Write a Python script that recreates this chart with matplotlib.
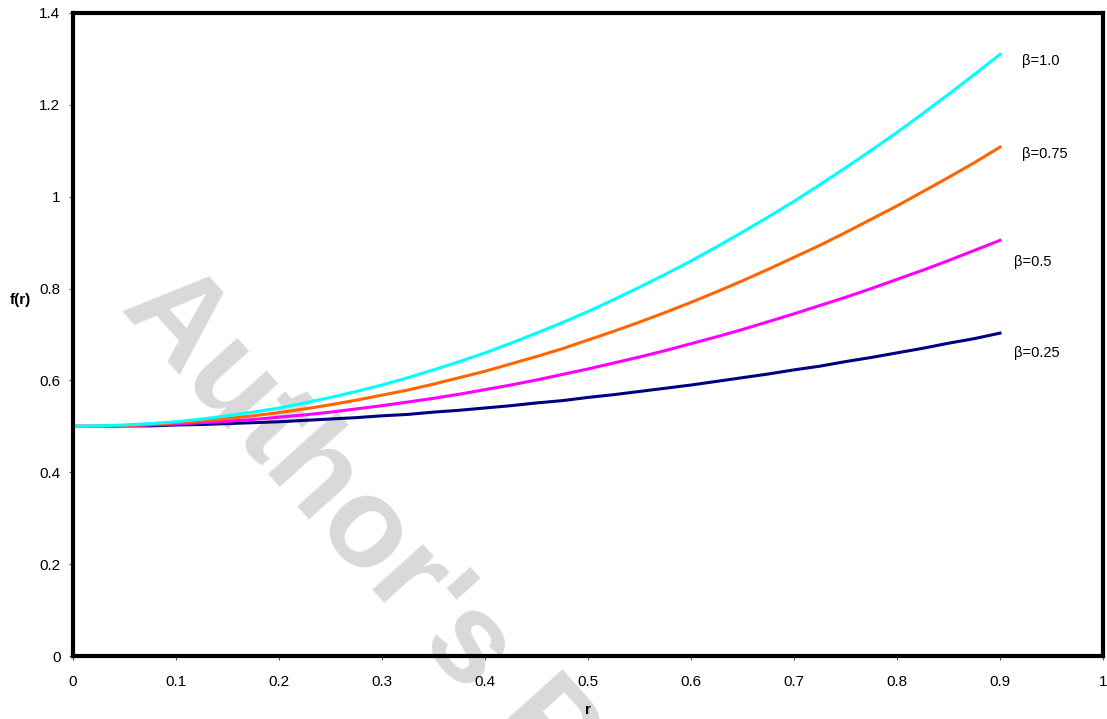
import matplotlib.pyplot as plt

plt.rcParams['font.family'] = ['Liberation Sans', 'DejaVu Sans']

# r values and f(r)
r = [0.0, 0.025, 0.05, 0.075, 0.1, 0.125, 0.15, 0.175, 0.2, 0.225,
     0.25, 0.275, 0.3, 0.325, 0.35, 0.375, 0.4, 0.425, 0.45, 0.475,
     0.5, 0.525, 0.55, 0.575, 0.6, 0.625, 0.65, 0.675, 0.7, 0.725,
     0.75, 0.775, 0.8, 0.825, 0.85, 0.875, 0.9]
f_b100 = [0.500, 0.501, 0.503, 0.506, 0.510, 0.516, 0.523, 0.531, 0.540, 0.551,
          0.563, 0.576, 0.590, 0.606, 0.623, 0.641, 0.660, 0.681, 0.703, 0.726,
          0.750, 0.776, 0.803, 0.831, 0.860, 0.891, 0.923, 0.956, 0.990, 1.026,
          1.063, 1.101, 1.140, 1.181, 1.223, 1.266, 1.310]
f_b075 = [0.500, 0.500, 0.502, 0.504, 0.508, 0.512, 0.517, 0.523, 0.530, 0.538,
          0.547, 0.557, 0.568, 0.579, 0.592, 0.606, 0.620, 0.636, 0.652, 0.669,
          0.688, 0.707, 0.727, 0.748, 0.770, 0.793, 0.817, 0.842, 0.868, 0.894,
          0.922, 0.951, 0.980, 1.011, 1.042, 1.074, 1.108]
f_b050 = [0.500, 0.500, 0.501, 0.503, 0.505, 0.508, 0.511, 0.515, 0.520, 0.525,
          0.531, 0.538, 0.545, 0.553, 0.561, 0.570, 0.580, 0.590, 0.601, 0.613,
          0.625, 0.638, 0.651, 0.665, 0.680, 0.695, 0.711, 0.728, 0.745, 0.763,
          0.781, 0.800, 0.820, 0.840, 0.861, 0.883, 0.905]
f_b025 = [0.500, 0.500, 0.501, 0.501, 0.503, 0.504, 0.506, 0.508, 0.510, 0.513,
          0.516, 0.519, 0.523, 0.526, 0.531, 0.535, 0.540, 0.545, 0.551, 0.556,
          0.563, 0.569, 0.576, 0.583, 0.590, 0.598, 0.606, 0.614, 0.623, 0.631,
          0.641, 0.650, 0.660, 0.670, 0.681, 0.691, 0.703]

labels = ['\u03b2=1.0', '\u03b2=0.75', '\u03b2=0.5', '\u03b2=0.25']
label_pos = [(0.921, 1.295), (0.921, 1.094), (0.914, 0.858), (0.914, 0.659)]

fig = plt.figure(figsize=(11.07, 7.19), dpi=100)
ax = fig.add_axes([73 / 1107, 1 - 656 / 719, 1030 / 1107, 643 / 719])

ax.plot(r, f_b025, color='#000080', lw=2.2, zorder=3)
ax.plot(r, f_b050, color='#ff00ff', lw=2.2, zorder=3)
ax.plot(r, f_b075, color='#ff6600', lw=2.2, zorder=3)
ax.plot(r, f_b100, color='#00ffff', lw=2.2, zorder=3)

for lab, (x, y) in zip(labels, label_pos):
    ax.text(x, y, lab, fontsize=10.5, ha='left', va='center')

# watermark behind the plot
ax.text(0.045, 0.54, "Author's Personal Copy", transform=ax.transAxes,
        fontsize=92, fontweight='bold', color='#d9d9d9', rotation=-48,
        rotation_mode='anchor', ha='left', va='baseline', clip_on=False, zorder=0)
ax.set_facecolor('none')

ax.set_xlim(0, 1)
ax.set_ylim(0, 1.4)
ax.set_xticks([0, 0.1, 0.2, 0.3, 0.4, 0.5, 0.6, 0.7, 0.8, 0.9, 1])
ax.set_xticklabels(['0', '0.1', '0.2', '0.3', '0.4', '0.5', '0.6', '0.7', '0.8', '0.9', '1'])
ax.set_yticks([0, 0.2, 0.4, 0.6, 0.8, 1.0, 1.2, 1.4])
ax.set_yticklabels(['0', '0.2', '0.4', '0.6', '0.8', '1', '1.2', '1.4'])
ax.tick_params(direction='out', length=3, width=0.8, color='#555555', labelsize=11)
ax.tick_params(axis='x', pad=11)
ax.tick_params(axis='y', pad=6)
for s in ax.spines.values():
    s.set_linewidth(3)
    s.set_zorder(4)

ax.set_xlabel('r', fontsize=11, fontweight='bold', labelpad=10)
ax.set_ylabel('f(r)', fontsize=11, fontweight='bold', rotation=0, va='center')
ax.yaxis.set_label_coords(-0.0515, 0.554)

fig.savefig('out.png', dpi=100)
